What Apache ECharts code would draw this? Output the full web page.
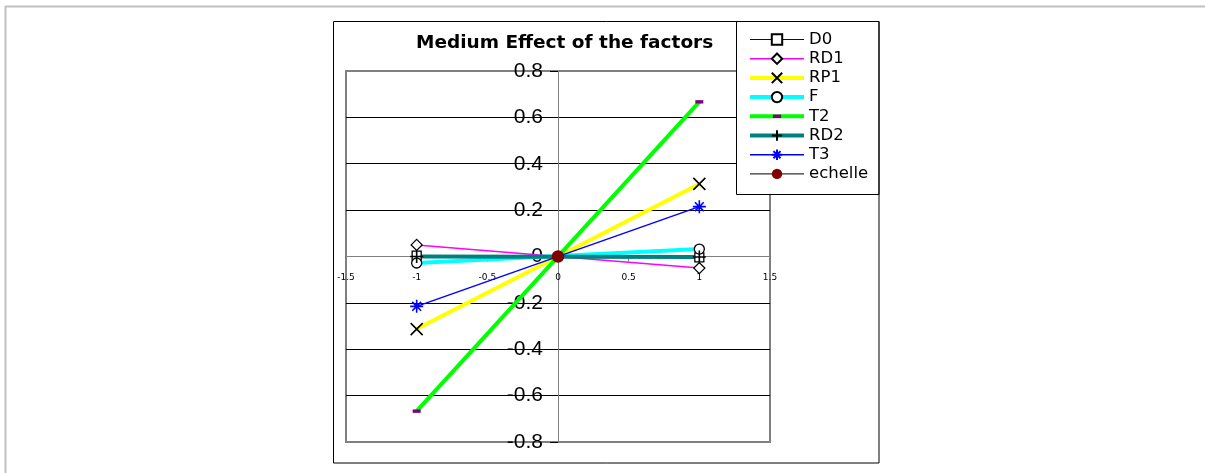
<!DOCTYPE html>
<html><head><meta charset="utf-8">
<script src="https://cdn.jsdelivr.net/npm/echarts@6/dist/echarts.min.js"></script>
<style>html,body{margin:0;padding:0;background:#fff}#c{width:1205px;height:473px}</style>
</head><body><div id="c"></div>
<script>
// ---- data ----
const titleText = 'Medium Effect of the factors';
const xLevels = [-1, 1];
const D0  = [0.004, -0.004];
const RD1 = [0.05, -0.05];
const RP1 = [-0.313, 0.313];
const F   = [-0.028, 0.032];
const T2  = [-0.667, 0.667];
const RD2 = [0.0, -0.002];
const T3  = [-0.215, 0.215];
const echelleX = [0];
const echelleY = [0];
const seriesNames = ['D0', 'RD1', 'RP1', 'F', 'T2', 'RD2', 'T3', 'echelle'];
const xMin = -1.5, xMax = 1.5, xStep = 0.5;
const yMin = -0.8, yMax = 0.8, yStep = 0.2;

// ---- styles ----
const SYM_X = 'path://M0,0L10,10M10,0L0,10';
const SYM_PLUS = 'path://M5,0L5,10M0,5L10,5';
const SYM_STAR = 'path://M5,0L5,10M0,5L10,5M1.6,1.6L8.4,8.4M8.4,1.6L1.6,8.4';
const SYM_DASH = 'path://M0,0M10,10M1,3.3L9,3.3L9,6.7L1,6.7Z';

function pts(xs, ys) { return xs.map((x, i) => [x, ys[i]]); }
function mk(name, data, lineColor, lineWidth, symbol, size, fill, stroke, bw) {
  return {
    name: name, type: 'line', data: data,
    symbol: symbol, symbolSize: size, showSymbol: true,
    lineStyle: { color: lineColor, width: lineWidth },
    itemStyle: { color: fill, borderColor: stroke, borderWidth: bw },
    emphasis: { disabled: true }, silent: true, clip: false
  };
}

const chart = echarts.init(document.getElementById('c'), null, { renderer: 'canvas' });
chart.setOption({
  animation: false,
  backgroundColor: '#fff',
  title: {
    text: titleText, left: 416, top: 34, padding: 0,
    textStyle: { fontFamily: 'DejaVu Sans', fontWeight: 'bold', fontSize: 18.5, color: '#000' }
  },
  grid: {
    left: 346, right: 435, top: 71, bottom: 31,
    show: true, borderColor: '#808080', borderWidth: 2, backgroundColor: '#fff'
  },
  xAxis: {
    type: 'value', min: xMin, max: xMax, interval: xStep, offset: -185.5,
    axisLine: { show: true, onZero: false, lineStyle: { color: '#808080', width: 1 } },
    axisTick: { show: true, length: 5, lineStyle: { color: '#808080' } },
    axisLabel: { fontFamily: 'DejaVu Sans', fontSize: 9, color: '#000', margin: 17 },
    splitLine: { show: false }
  },
  yAxis: {
    type: 'value', min: yMin, max: yMax, interval: yStep, offset: -212,
    axisLine: { show: true, onZero: false, lineStyle: { color: '#808080', width: 1 } },
    axisTick: { show: true, length: 8, lineStyle: { color: '#000' } },
    axisLabel: { fontFamily: 'Liberation Sans', fontSize: 21, color: '#000', margin: 15 },
    splitLine: { show: true, lineStyle: { color: ['#808080', '#000', '#000', '#000', '#808080', '#000', '#000', '#000', '#808080'], width: 1 } }
  },
  legend: {
    data: seriesNames, orient: 'vertical', left: 748, top: 31, padding: 0,
    itemWidth: 54, itemHeight: 13, itemGap: 2.2, selectedMode: false, z: 4,
    lineStyle: { width: 'inherit' },
    textStyle: { fontFamily: 'DejaVu Sans', fontSize: 16.5, color: '#000', lineHeight: 16 }
  },
  graphic: [
    { type: 'line', shape: { x1: 5, y1: 6.5, x2: 1205, y2: 6.5 }, style: { stroke: '#c0c0c0', lineWidth: 2 }, z: 10 },
    { type: 'line', shape: { x1: 5.5, y1: 6, x2: 5.5, y2: 473 }, style: { stroke: '#c0c0c0', lineWidth: 2 }, z: 10 },
    { type: 'rect', shape: { x: 736.5, y: 21.5, width: 142.5, height: 173 }, style: { fill: '#fff', stroke: '#000', lineWidth: 1 }, z: 3 },
    { type: 'rect', shape: { x: 333.5, y: 21.5, width: 545.5, height: 441.5 }, style: { fill: 'none', stroke: '#000', lineWidth: 1 }, z: 10 }
  ],
  series: [
    mk('D0', pts(xLevels, D0), '#000080', 1, 'rect', 9, '#fff', '#000', 1.3),
    mk('RD1', pts(xLevels, RD1), '#ff00ff', 1.5, 'diamond', 11, '#fff', '#000', 1.3),
    mk('RP1', pts(xLevels, RP1), '#ffff00', 4, SYM_X, 12, '#000', '#000', 1.6),
    mk('F', pts(xLevels, F), '#00ffff', 4, 'circle', 10, '#fff', '#000', 1.3),
    mk('T2', pts(xLevels, T2), '#00ff00', 4, SYM_DASH, 10, '#800080', '#800080', 0),
    mk('RD2', pts(xLevels, RD2), '#008080', 4, SYM_PLUS, 13, '#000', '#000', 1.6),
    mk('T3', pts(xLevels, T3), '#0000ff', 1.5, SYM_STAR, 13, '#0000ff', '#0000ff', 1.6),
    mk('echelle', pts(echelleX, echelleY), '#000', 1, 'circle', 12.5, '#800000', '#800000', 0)
  ]
});
</script>
</body></html>
